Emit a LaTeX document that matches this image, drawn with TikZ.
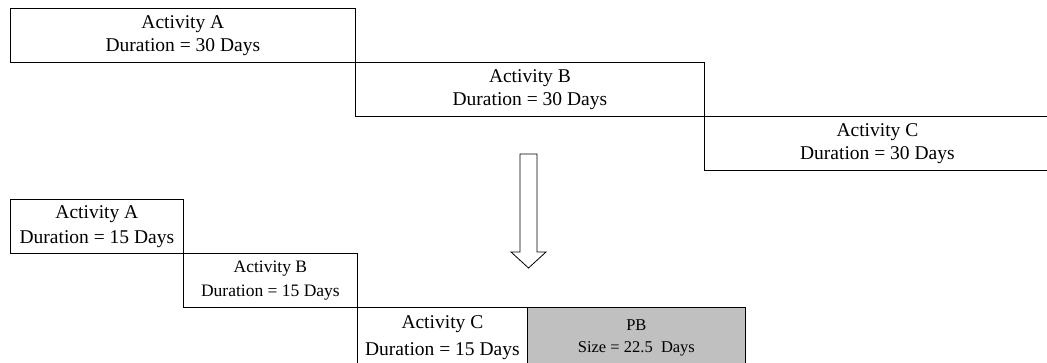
\documentclass[tikz,border=0pt]{standalone}
\usepackage{fontspec}
\setmainfont{Liberation Serif}
\definecolor{bufgray}{RGB}{192,192,192}
\begin{document}
\begin{tikzpicture}[x=1pt,y=-1pt,
  act/.style={draw=black, line width=0.8pt, inner sep=0pt, anchor=north west,
    align=center, font=\fontsize{19.5}{23}\selectfont},
  actsmall/.style={act, font=\fontsize{17.5}{24}\selectfont},
  buffer/.style={act, fill=bufgray, font=\fontsize{16.5}{22}\selectfont},
  blockarrow/.style={draw=black, line width=0.8pt, fill=white}]
\useasboundingbox (0,0) rectangle (1047,362);

% sequential schedule, 30-day activities
\node[act, minimum width=345pt, minimum height=54pt] (ta) at (10,8)
  {Activity A\\Duration = 30 Days};
\node[act, minimum width=349pt, minimum height=54pt] (tb) at (355,62)
  {Activity B\\Duration = 30 Days};
\node[act, minimum width=346pt, minimum height=54pt] (tc) at (704,116)
  {Activity C\\Duration = 30 Days};

% transition arrow
\draw[blockarrow] (520,154) -- (537,154) -- (537,252) -- (546,252)
  -- (528.5,268) -- (511,252) -- (520,252) -- cycle;

% compressed schedule with project buffer
\node[act, font=\fontsize{19.5}{25}\selectfont, minimum width=173pt, minimum height=54pt] (ba) at (10,199)
  {Activity A\\Duration = 15 Days};
\node[actsmall, minimum width=174pt, minimum height=54pt] (bb) at (183,253)
  {Activity B\\Duration = 15 Days};
\node[act, font=\fontsize{19.5}{27}\selectfont, minimum width=170pt, minimum height=60pt] (bc) at (357,307)
  {Activity C\\Duration = 15 Days};
\node[buffer, minimum width=218pt, minimum height=60pt] (pb) at (527,307)
  {PB\\Size = 22.5\hspace{0.25em} Days};
\end{tikzpicture}
\end{document}
